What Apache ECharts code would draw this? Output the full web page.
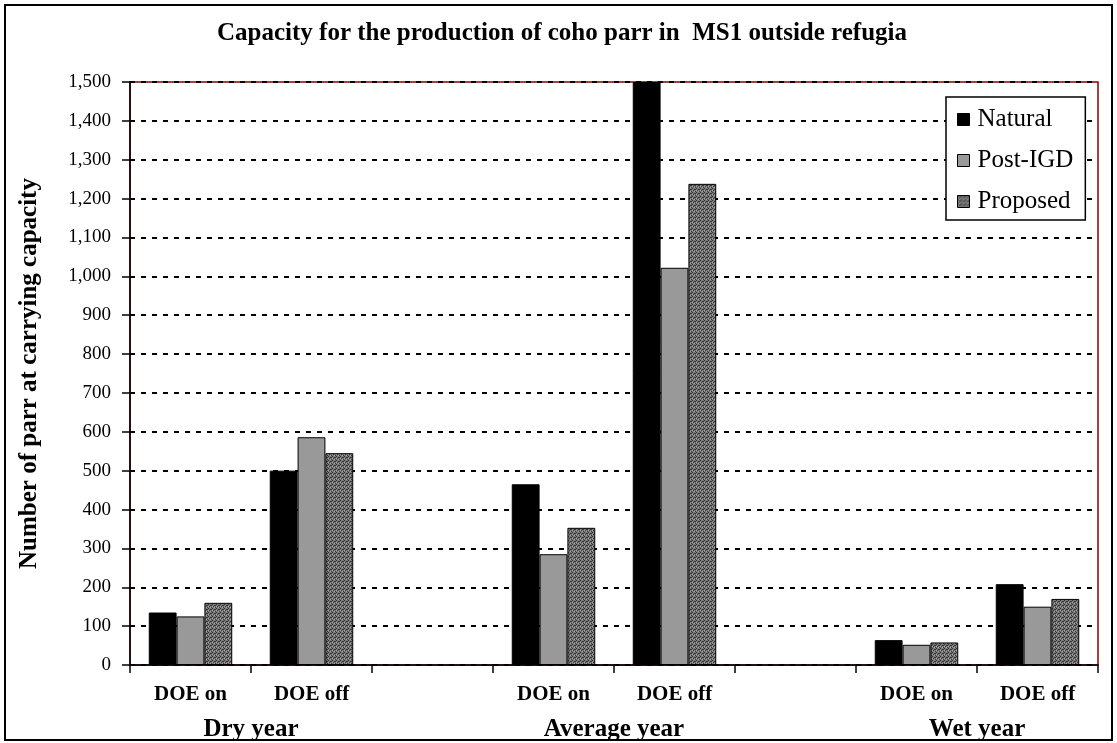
<!DOCTYPE html>
<html>
<head>
<meta charset="utf-8">
<script src="https://cdn.jsdelivr.net/npm/echarts@6/dist/echarts.min.js"></script>
<style>
  html, body { margin: 0; padding: 0; background: #fff; }
  #chart { width: 1117px; height: 743px; }
</style>
</head>
<body>
<div id="chart"></div>
<script>
// ---- data ----
const categories = ['DOE on', 'DOE off', '', 'DOE on', 'DOE off', '', 'DOE on', 'DOE off'];
const groupLabels = ['', 'Dry year', '', '', 'Average year', '', '', 'Wet year', ''];
const seriesNames = ['Natural', 'Post-IGD', 'Proposed'];
const natural  = [135, 500, null, 465, 1500, null, 64, 208];
const postIGD  = [125, 586, null, 285, 1022, null, 52, 150];
const proposed = [160, 545, null, 353, 1238, null, 58, 170];
const yMin = 0, yMax = 1500, yStep = 100;

// ---- stipple pattern for "Proposed" ----
function makePattern() {
  const c = document.createElement('canvas');
  c.width = 4; c.height = 4;
  const g = c.getContext('2d');
  g.fillStyle = '#7a7a7a';
  g.fillRect(0, 0, 4, 4);
  g.fillStyle = '#333333';
  [[0,0],[2,1],[1,2],[3,3],[3,1]].forEach(p => g.fillRect(p[0], p[1], 1, 1));
  g.fillStyle = '#a8a8a8';
  [[2,3],[0,2]].forEach(p => g.fillRect(p[0], p[1], 1, 1));
  return c;
}
const pattern = { image: makePattern(), repeat: 'repeat' };

const serif = 'Liberation Serif';
const chart = echarts.init(document.getElementById('chart'), null, { renderer: 'canvas' });

const barCommon = {
  type: 'bar',
  barGap: '0%',
  barCategoryGap: '31%',
  emphasis: { disabled: true }
};

chart.setOption({
  animation: false,
  backgroundColor: '#fff',
  title: {
    text: 'Capacity for the production of coho parr in  MS1 outside refugia',
    left: 557, top: 16, textAlign: 'center',
    textStyle: { fontFamily: serif, fontWeight: 'bold', fontSize: 25, color: '#000' }
  },
  legend: {
    orient: 'vertical',
    left: 946, top: 97,
    data: seriesNames,
    icon: 'rect',
    itemWidth: 12, itemHeight: 12,
    itemGap: 16,
    padding: [10, 12, 6, 11],
    borderColor: '#000', borderWidth: 1.5,
    backgroundColor: '#fff',
    itemStyle: { borderColor: '#000', borderWidth: 1 },
    textStyle: { fontFamily: serif, fontSize: 25, color: '#000', padding: [0, 0, 0, 3] }
  },
  grid: {
    left: 130, right: 19, top: 82, bottom: 78,
    show: true, borderColor: '#8b0000', borderWidth: 1.5, backgroundColor: 'transparent'
  },
  xAxis: [
    {
      type: 'category',
      data: categories,
      axisLine: { lineStyle: { color: '#000', width: 1.5 } },
      axisTick: { show: true, interval: 0, length: 8, lineStyle: { color: '#000', width: 1.5 } },
      axisLabel: { interval: 0, margin: 19, fontFamily: serif, fontWeight: 'bold', fontSize: 21, color: '#000' },
      splitLine: { show: false }
    },
    {
      type: 'category',
      data: groupLabels,
      position: 'bottom',
      boundaryGap: false,
      axisLine: { show: false },
      axisTick: { show: false },
      axisLabel: { interval: 0, margin: 52, fontFamily: serif, fontWeight: 'bold', fontSize: 25, color: '#000' },
      splitLine: { show: false }
    }
  ],
  yAxis: {
    type: 'value',
    min: yMin, max: yMax, interval: yStep,
    name: 'Number of parr at carrying capacity',
    nameLocation: 'middle',
    nameGap: 88,
    nameRotate: 90,
    nameTextStyle: { fontFamily: serif, fontWeight: 'bold', fontSize: 25, color: '#000' },
    axisLine: { show: true, lineStyle: { color: '#000', width: 1.5 } },
    axisTick: { show: true, length: 8, lineStyle: { color: '#000', width: 1.5 } },
    axisLabel: {
      margin: 19, fontFamily: serif, fontSize: 19, color: '#000',
      formatter: v => v.toLocaleString('en-US')
    },
    splitLine: { show: true, lineStyle: { color: '#000', width: 2, type: [5, 6] } }
  },
  series: [
    Object.assign({}, barCommon, { name: seriesNames[0], data: natural, itemStyle: { color: '#000', borderColor: '#000', borderWidth: 1 } }),
    Object.assign({}, barCommon, { name: seriesNames[1], data: postIGD, itemStyle: { color: '#999999', borderColor: '#000', borderWidth: 1 } }),
    Object.assign({}, barCommon, { name: seriesNames[2], data: proposed, itemStyle: { color: pattern, borderColor: '#000', borderWidth: 1 } })
  ],
  graphic: [
    {
      type: 'rect', z: 100, silent: true,
      shape: { x: 5, y: 5, width: 1107, height: 735 },
      style: { fill: 'none', stroke: '#000', lineWidth: 2 }
    }
  ]
});
</script>
</body>
</html>
